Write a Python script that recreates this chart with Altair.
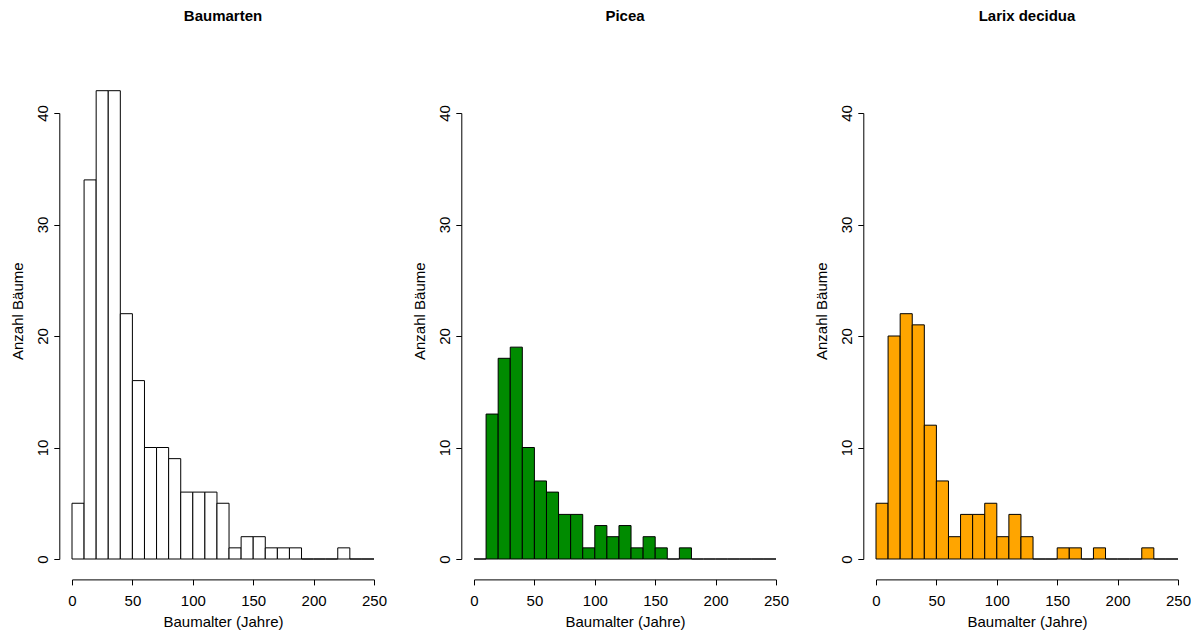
import altair as alt
import pandas as pd

# Histogram bins (Baumalter in Jahren)
bin_start = [0, 10, 20, 30, 40, 50, 60, 70, 80, 90, 100, 110, 120, 130, 140,
             150, 160, 170, 180, 190, 200, 210, 220, 230, 240]
bin_end = [10, 20, 30, 40, 50, 60, 70, 80, 90, 100, 110, 120, 130, 140, 150,
           160, 170, 180, 190, 200, 210, 220, 230, 240, 250]

# Counts
baumarten = [5, 34, 42, 42, 22, 16, 10, 10, 9, 6, 6, 6, 5, 1, 2,
             2, 1, 1, 1, 0, 0, 0, 1, 0, 0]
picea = [0, 13, 18, 19, 10, 7, 6, 4, 4, 1, 3, 2, 3, 1, 2,
         1, 0, 1, 0, 0, 0, 0, 0, 0, 0]
larix = [5, 20, 22, 21, 12, 7, 2, 4, 4, 5, 2, 4, 2, 0, 0,
         1, 1, 0, 1, 0, 0, 0, 1, 0, 0]

panel_titles = ["Baumarten", "Picea", "Larix decidua"]
panel_fills = ["#FFFFFF", "#008B00", "#FFA500"]
panel_counts = [baumarten, picea, larix]
# title offsets differ because the first panel's bars rise above the 40 line
title_offsets = [54.3, 68.7, 68.7]

x_ticks = [0, 50, 100, 150, 200, 250]
y_ticks = [0, 10, 20, 30, 40]

FONT = "Liberation Sans"


def panel(counts, fill, title, toff):
    df = pd.DataFrame({"start": bin_start, "end": bin_end, "count": counts})
    return alt.Chart(df, title=alt.TitleParams(
        text=title, fontSize=15, fontWeight="bold", font=FONT, color="black",
        anchor="middle", baseline="alphabetic", offset=toff,
    )).mark_rect(fill=fill, stroke="black", strokeWidth=1, opacity=1).encode(
        x=alt.X("start:Q",
                scale=alt.Scale(domain=[0, 250], nice=False, zero=False),
                axis=alt.Axis(values=x_ticks, title="Baumalter (Jahre)",
                              offset=20.4, tickSize=5.5, labelPadding=20.8,
                              labelBaseline="alphabetic", labelFlush=False,
                              labelOverlap=False, titleBaseline="alphabetic",
                              titleY=46.8)),
        x2="end:Q",
        y=alt.Y("count:Q",
                scale=alt.Scale(domain=[0, 40], nice=False),
                axis=alt.Axis(values=y_ticks, title="Anzahl Bäume",
                              offset=12.7, tickSize=5.5, labelPadding=6.3,
                              labelAngle=270, labelAlign="center",
                              labelBaseline="alphabetic", labelOverlap=False,
                              labelFlush=False,
                              titleAngle=270, titleAlign="center",
                              titleBaseline="alphabetic",
                              titleX=-36.9, titleY=197.7)),
        y2=alt.datum(0),
    ).properties(width=302, height=446)


charts = [panel(c, f, t, o) for c, f, t, o in
          zip(panel_counts, panel_fills, panel_titles, title_offsets)]

chart = alt.hconcat(*charts, spacing=100, bounds="flush").properties(
    padding={"left": 2, "top": 0, "right": 0, "bottom": 0},
    background="white",
).configure_view(stroke=None).configure_axis(
    grid=False, domainColor="black", tickColor="black", domainWidth=1,
    tickWidth=1, labelColor="black", titleColor="black", labelFont=FONT,
    titleFont=FONT, labelFontSize=15, titleFontSize=15,
    titleFontWeight="normal",
)

chart.save("out.html", embed_options={"renderer": "svg", "actions": False})
